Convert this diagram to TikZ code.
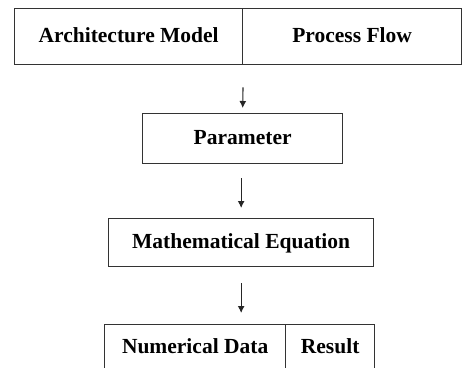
\documentclass[tikz,border=0pt]{standalone}
\usepackage{fontspec}
\setmainfont{Liberation Serif}
\usetikzlibrary{arrows.meta}
\begin{document}
\begin{tikzpicture}[x=1pt,y=-1pt,
  cell/.style={draw=black!80,line width=1.3pt,inner sep=0pt,anchor=north west,
    text height=15pt,text depth=4pt,
    font=\fontsize{21.5}{25}\selectfont\bfseries},
  arr/.style={draw=black!85,line width=1.1pt,-{Latex[length=7pt,width=7pt]}}]
\useasboundingbox (0,0) rectangle (462,367);
\node[cell,minimum width=228pt,minimum height=56pt] (arch) at (14,8) {Architecture Model};
\node[cell,minimum width=219pt,minimum height=56pt] (proc) at (242,8) {Process Flow};
\node[cell,minimum width=200pt,minimum height=50pt] (param) at (142,113) {Parameter};
\node[cell,minimum width=265pt,minimum height=48pt] (math) at (108,218) {Mathematical Equation};
\node[cell,minimum width=181pt,minimum height=47pt] (num) at (104,324) {Numerical Data};
\node[cell,minimum width=89pt,minimum height=47pt] (res) at (285,324) {Result};
\draw[arr,shorten <=22pt,shorten >=5pt] (arch.south east) -- (param.north);
\draw[arr,shorten <=14pt,shorten >=10pt] (param.south -| math.north) -- (math.north);
\draw[arr,shorten <=16pt,shorten >=11pt] (math.south) -- (math.south |- num.north);
\end{tikzpicture}
\end{document}
